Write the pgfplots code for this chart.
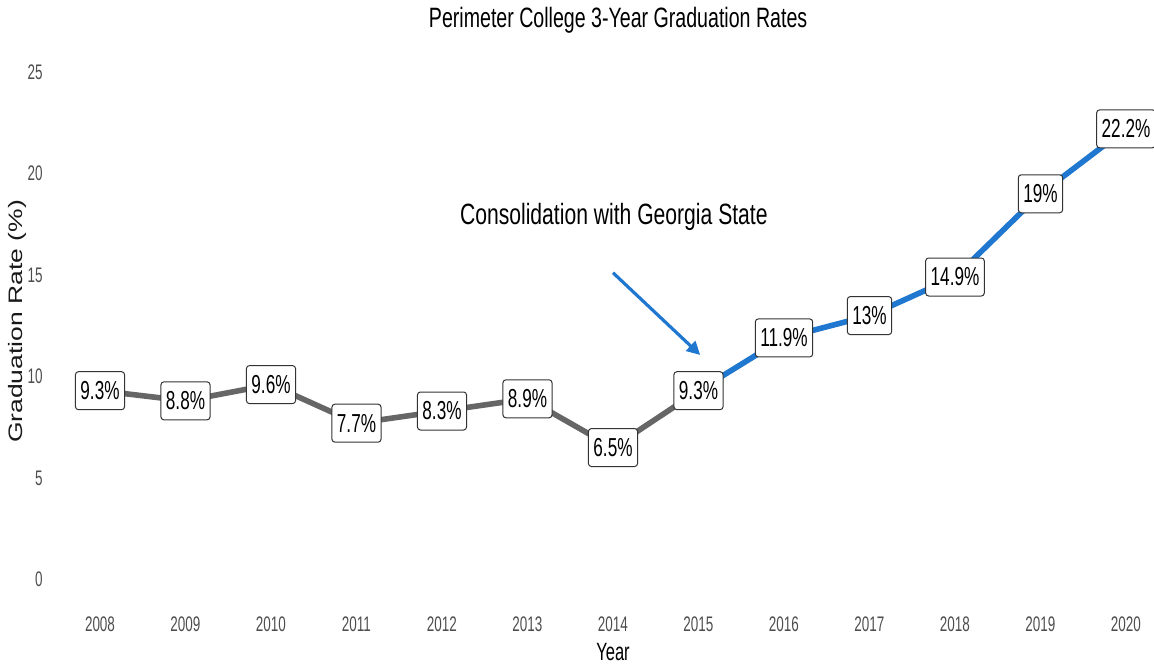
\documentclass[border=0pt]{standalone}
\usepackage{pgfplots}
\pgfplotsset{compat=1.18}
\usepackage{fontspec}
\setmainfont{Liberation Sans}
\usetikzlibrary{arrows.meta}
% condensed faces (the reference is squeezed sideways)
\newfontfamily\ftick[FakeStretch=0.64]{Liberation Sans}
\newfontfamily\flab[FakeStretch=0.66]{Liberation Sans}
\newfontfamily\ftitle[FakeStretch=0.70]{Liberation Sans}
\newfontfamily\fnote[FakeStretch=0.72]{Liberation Sans}
\newfontfamily\fylab[FakeStretch=1.36]{Liberation Sans}
\definecolor{linegray}{HTML}{666666}
\definecolor{lineblue}{HTML}{1F77D0}
\definecolor{tickgray}{HTML}{4D4D4D}
\begin{document}
\begin{tikzpicture}
\begin{axis}[
    name=ax,
    scale only axis,
    width=820.8pt, height=411.1pt,
    xmin=2007.5, xmax=2020.3,
    ymin=-1, ymax=26,
    xtick={2008,2009,...,2020},
    ytick={0,5,10,15,20,25},
    axis line style={draw=none},
    tick style={draw=none},
    major tick length=0pt,
    /pgf/number format/assume math mode=true,
    /pgf/number format/set thousands separator={},
    xticklabel style={font=\ftick\fontsize{15.8pt}{16pt}\selectfont, text=tickgray, anchor=base, yshift=-23.4pt},
    yticklabel style={font=\ftick\fontsize{15.8pt}{16pt}\selectfont, text=tickgray, anchor=east, inner sep=0pt, xshift=-10.7pt},
    clip=false,
]
% before consolidation
\addplot[linegray, line width=4.2pt, line join=round] coordinates {
    (2008,9.3) (2009,8.8) (2010,9.6) (2011,7.7) (2012,8.3) (2013,8.9) (2014,6.5) (2015,9.3)
};
% after consolidation
\addplot[lineblue, line width=4.2pt, line join=round] coordinates {
    (2015,9.3) (2016,11.9) (2017,13) (2018,14.9) (2019,19) (2020,22.2)
};
% value labels
\addplot[draw=none, point meta=y,
    nodes near coords={\pgfmathprintnumber[assume math mode=true]{\pgfplotspointmeta}\%},
    every node near coord/.style={anchor=center, fill=white, draw=black!80, line width=0.75pt,
        rounded corners=2.25pt, inner xsep=3.75pt, minimum height=28.5pt,
        font=\flab\fontsize{19.5pt}{20pt}\selectfont, text=black}]
coordinates {
    (2008,9.3) (2009,8.8) (2010,9.6) (2011,7.7) (2012,8.3) (2013,8.9) (2014,6.5)
    (2015,9.3) (2016,11.9) (2017,13) (2018,14.9) (2019,19) (2020,22.2)
};
% annotation
\draw[lineblue, line width=2.4pt, -{Triangle[length=10pt,width=10pt]}]
    (axis cs:2014.0,15.11) -- (axis cs:2015.02,11.06);
\node[anchor=base, font=\fnote\fontsize{22pt}{24pt}\selectfont] at (axis cs:2014.01,17.51)
    {Consolidation with Georgia State};
% titles
\node[anchor=base, font=\ftitle\fontsize{21pt}{23pt}\selectfont] at (axis cs:2014.06,27.2)
    {Perimeter College 3-Year Graduation Rates};
\node[anchor=base, font=\flab\fontsize{18.75pt}{20pt}\selectfont] at (axis cs:2014.0,-3.97) {Year};
\node[rotate=90, anchor=center, font=\fylab\fontsize{14.6pt}{16pt}\selectfont, text=black!90]
    at (axis cs:2007.03,12.71) {Graduation Rate (\%)};
\end{axis}
\pgfresetboundingbox
\path ([shift={(-42.94pt,-48.9pt)}]ax.south west) rectangle ([shift={(822.56pt,449.85pt)}]ax.south west);
\end{tikzpicture}
\end{document}
